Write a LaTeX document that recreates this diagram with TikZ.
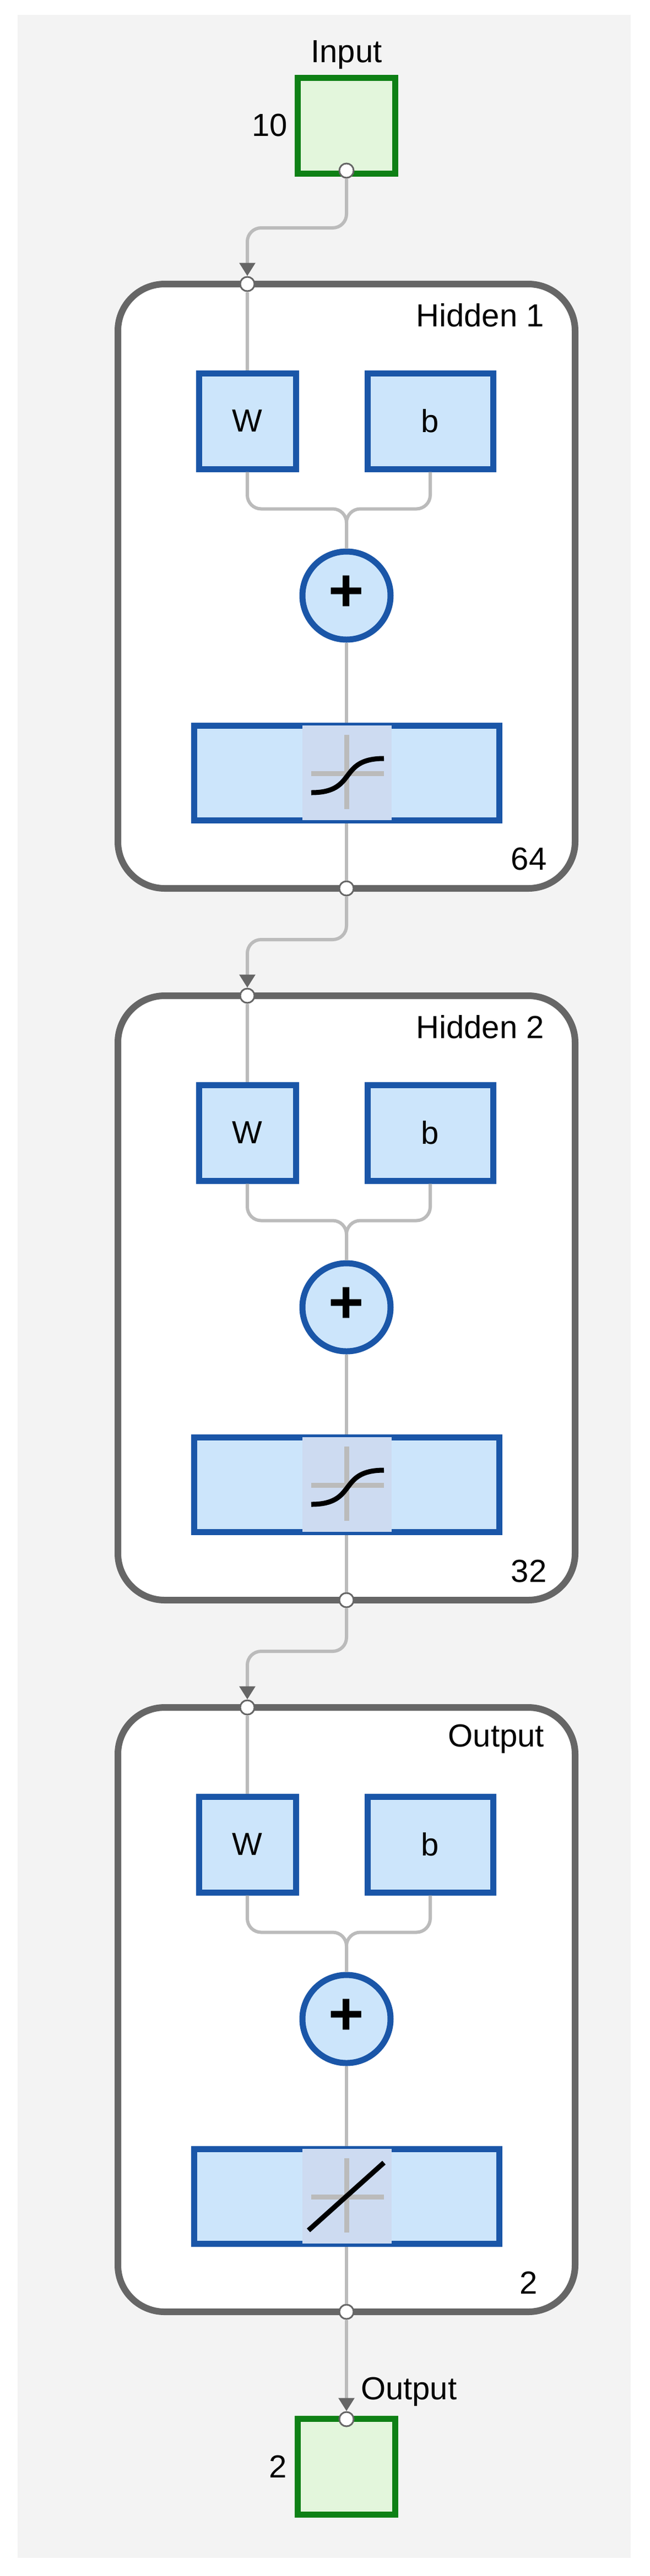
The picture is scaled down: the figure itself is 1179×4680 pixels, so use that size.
\documentclass[tikz,border=0pt]{standalone}
\usepackage{fontspec}
\setmainfont{Liberation Sans}
\usetikzlibrary{arrows.meta}
\definecolor{bgc}{HTML}{F3F3F3}
\definecolor{bluB}{HTML}{1A56A8}
\definecolor{bluF}{HTML}{CCE5FB}
\definecolor{grnB}{HTML}{0E8015}
\definecolor{grnF}{HTML}{E3F6DC}
\definecolor{frm}{HTML}{666666}
\definecolor{wir}{HTML}{BBBBBB}
\definecolor{inner}{HTML}{CDDBF1}
\begin{document}
\begin{tikzpicture}[x=1pt,y=-1pt,
  txt/.style={font=\fontsize{58}{68}\selectfont,inner sep=0pt},
  blk/.style={draw=bluB,fill=bluF,line width=11pt},
  io/.style={draw=grnB,fill=grnF,line width=11pt},
  wire/.style={draw=wir,line width=6pt,rounded corners=25pt},
  port/.style={circle,draw=frm,fill=white,line width=3pt,minimum size=26pt,inner sep=0pt},
  arr/.style={wire,-{Triangle[length=24pt,width=28pt,fill=frm,color=frm]}}]
\useasboundingbox (0,0) rectangle (1179,4680);
\fill[bgc] (32,27) rectangle (1145,4647);
% input
\node[io,minimum width=177pt,minimum height=174pt,inner sep=0pt] (in) at (629,228) {};
\node[txt] (inL) at (629,100) {Input};
\node[txt] (inN) at (490,228) {10};
\node[port] (inP) at (629,310) {};
\foreach \i/\d/\name/\num/\act in {1/0/Hidden 1/64/t,2/1293/Hidden 2/32/t,3/2586/Output/2/l}{
  \begin{scope}[yshift=-\d pt]
  \draw[frm,line width=12pt,fill=white,rounded corners=85pt] (214,516) rectangle (1044,1614);
  \node[txt,anchor=east] (t\i) at (988,573) {\name};
  \node[txt] (n\i) at (960,1561) {\num};
  \node[blk,minimum width=176pt,minimum height=174pt,inner sep=0pt,txt] (w\i) at (449,765) {W};
  \node[blk,minimum width=228pt,minimum height=174pt,inner sep=0pt,txt] (b\i) at (781,765) {b};
  \node[blk,circle,minimum size=160pt,inner sep=0pt] (p\i) at (629,1082) {};
  \node[font=\fontsize{110}{110}\selectfont\bfseries,inner sep=0pt] (ps\i) at (629,1078) {+};
  \node[blk,minimum width=554pt,minimum height=172pt,inner sep=0pt] (f\i) at (629,1404) {};
  \fill[inner] (549,1318) rectangle (711,1490);
  \draw[wir,line width=9pt] (565,1405) -- (697,1405) (629,1335) -- (629,1470);
  \node[port] (tp\i) at (449,516) {};
  \node[port] (bp\i) at (629,1614) {};
  \end{scope}
  \draw[wire] (tp\i) -- (w\i);
  \draw[wire] (w\i.south) -- ++(0,67) -| (p\i.north);
  \draw[wire] (b\i.south) -- ++(0,67) -| (p\i.north);
  \draw[wire] (p\i) -- (f\i);
  \draw[wire] (f\i) -- (bp\i);
}
% activation curves
\foreach \d in {0,1293}{
  \draw[black,line width=9pt] (565,1440+\d) .. controls (650,1440+\d) and (612,1378+\d) .. (697,1378+\d);
}
\draw[black,line width=9pt] (560,1466+2586) -- (697,1343+2586);
% inter-layer wires
\draw[arr] (inP.south) -- (629,414) -- (449,414) -- (tp1.north);
\draw[arr] (bp1.south) -- (629,1707) -- (449,1707) -- (tp2.north);
\draw[arr] (bp2.south) -- (629,3000) -- (449,3000) -- (tp3.north);
% output
\node[io,minimum width=177pt,minimum height=174pt,inner sep=0pt] (out) at (629,4481) {};
\node[port] (outP) at (629,4395) {};
\draw[arr] (bp3.south) -- (outP.north);
\node[txt,anchor=west] (outL) at (655,4345) {Output};
\node[txt] (outN) at (505,4481) {2};
\end{tikzpicture}
\end{document}
